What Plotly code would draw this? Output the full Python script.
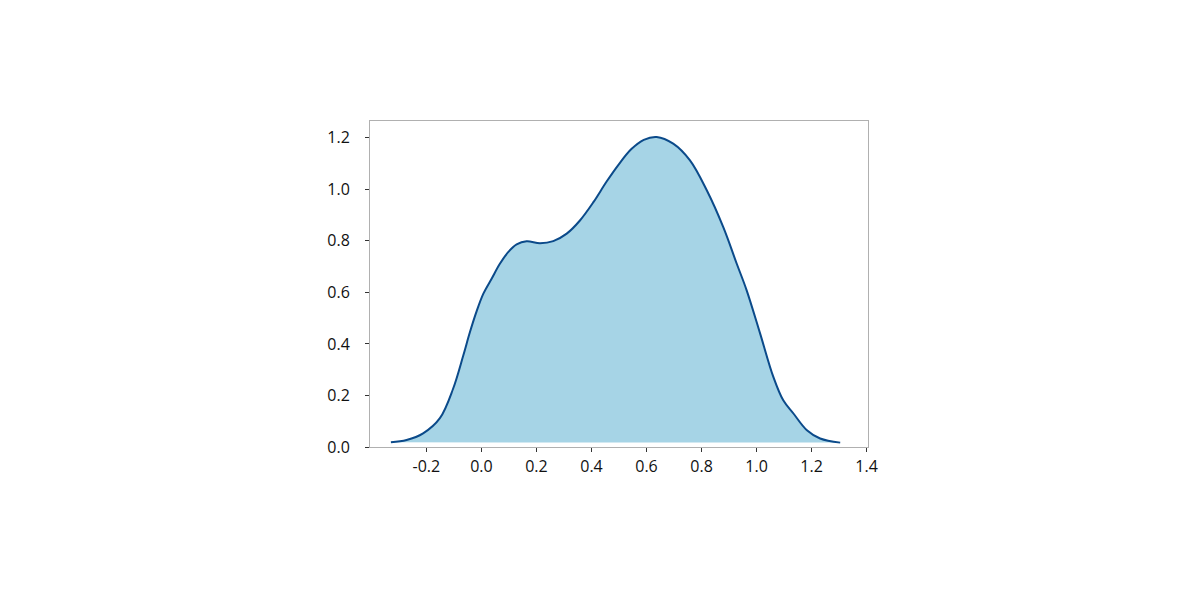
import plotly.graph_objects as go

# density curve
x_vals = [-0.329, -0.272, -0.212, -0.151, -0.103, -0.066, -0.042, -0.017, 0.007, 0.037,
          0.067, 0.098, 0.128, 0.164, 0.213, 0.261, 0.310, 0.358, 0.407, 0.455, 0.500,
          0.545, 0.590, 0.637, 0.697, 0.758, 0.819, 0.879, 0.928, 0.964, 1.013, 1.061,
          1.097, 1.134, 1.183, 1.231, 1.304]
density = [0.018, 0.027, 0.053, 0.112, 0.226, 0.355, 0.445, 0.528, 0.595, 0.653,
           0.711, 0.757, 0.786, 0.798, 0.791, 0.799, 0.828, 0.879, 0.950, 1.030, 1.098,
           1.156, 1.192, 1.203, 1.177, 1.112, 0.996, 0.853, 0.711, 0.608, 0.440, 0.272,
           0.181, 0.130, 0.065, 0.033, 0.017]

fig = go.Figure()
fig.add_trace(go.Scatter(
    x=x_vals, y=density, mode="lines", fill="toself",
    fillcolor="#a6d4e6", line=dict(color="#0b4a8a", width=2, shape="spline", smoothing=1),
    showlegend=False, hoverinfo="skip",
))

axis_style = dict(
    showgrid=False, zeroline=False, showline=True, linecolor="#b0b0b0", linewidth=1,
    mirror=True, ticks="outside", ticklen=4, tickcolor="#333333",
    tickfont=dict(family="Open Sans", size=16, color="#111111"),
)
fig.update_xaxes(range=[-0.405, 1.405], tickvals=[-0.2, 0, 0.2, 0.4, 0.6, 0.8, 1.0, 1.2, 1.4],
                 ticktext=["-0.2", "0.0", "0.2", "0.4", "0.6", "0.8", "1.0", "1.2", "1.4"],
                 ticklabelstandoff=1, **axis_style)
fig.update_yaxes(range=[0, 1.265], tickvals=[0, 0.2, 0.4, 0.6, 0.8, 1.0, 1.2],
                 ticktext=["0.0", "0.2", "0.4", "0.6", "0.8", "1.0", "1.2"],
                 ticklabelstandoff=12, **axis_style)
fig.update_layout(
    width=1200, height=600, plot_bgcolor="white", paper_bgcolor="white",
    margin=dict(l=362, r=340, t=113, b=161),
)
fig.write_html("out.html")
